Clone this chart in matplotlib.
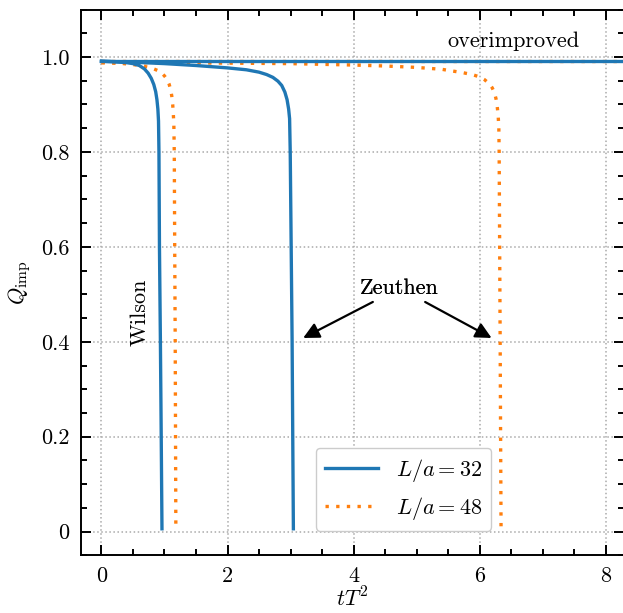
import numpy as np
import matplotlib
matplotlib.use("Agg")
import matplotlib.pyplot as plt
from matplotlib.ticker import MultipleLocator, FuncFormatter

plt.rcParams["font.family"] = "serif"
plt.rcParams["font.serif"] = ["cmr10", "DejaVu Serif"]
plt.rcParams["mathtext.fontset"] = "cm"
plt.rcParams["axes.formatter.use_mathtext"] = True
plt.rcParams["font.size"] = 16

# flow time tT^2 and Q_imp
wilson32_t = [0, 0.2, 0.4, 0.5, 0.6, 0.68, 0.74, 0.79, 0.83, 0.86, 0.88, 0.895, 0.905, 0.912, 0.92, 0.935, 0.948, 0.96]
wilson32_q = [0.991, 0.990, 0.988, 0.986, 0.982, 0.975, 0.966, 0.955, 0.942, 0.927, 0.910, 0.89, 0.865, 0.80, 0.60, 0.40, 0.20, 0.006]

zeuthen32_t = [0, 0.5, 1.0, 1.5, 2.0, 2.3, 2.5, 2.62, 2.72, 2.8, 2.86, 2.91, 2.945, 2.97, 2.985, 2.995, 3.01, 3.025, 3.035, 3.045]
zeuthen32_q = [0.991, 0.989, 0.986, 0.982, 0.977, 0.973, 0.968, 0.963, 0.957, 0.949, 0.940, 0.926, 0.91, 0.89, 0.87, 0.80, 0.60, 0.40, 0.20, 0.006]

wilson48_t = [0, 0.2, 0.35, 0.5, 0.66, 0.81, 0.9, 0.95, 1.0, 1.04, 1.07, 1.095, 1.115, 1.13, 1.14, 1.148, 1.155, 1.162, 1.17, 1.175, 1.18]
wilson48_q = [0.988, 0.987, 0.986, 0.984, 0.981, 0.976, 0.971, 0.967, 0.960, 0.953, 0.944, 0.933, 0.918, 0.90, 0.88, 0.86, 0.80, 0.60, 0.40, 0.20, 0.01]

zeuthen48_t = [0, 1.0, 2.0, 3.0, 4.0, 4.5, 5.0, 5.4, 5.73, 5.88, 6.0, 6.08, 6.15, 6.2, 6.235, 6.26, 6.28, 6.295, 6.305, 6.31, 6.318, 6.326, 6.333, 6.34]
zeuthen48_q = [0.988, 0.988, 0.987, 0.986, 0.983, 0.981, 0.978, 0.974, 0.967, 0.963, 0.958, 0.952, 0.944, 0.935, 0.925, 0.912, 0.895, 0.875, 0.85, 0.80, 0.60, 0.40, 0.20, 0.01]

over_t = [0, 8.5]
over32_q = [0.991, 0.991]
over48_q = [0.991, 0.991]

blue = "#1f77b4"
orange = "#ff7f0e"
dots = (0, (1, 2.2))

fig = plt.figure(figsize=(6.23, 6.13), dpi=100)
ax = fig.add_axes([0.1295, 0.094, 0.872, 0.8905])

ax.plot(over_t, over48_q, color=orange, lw=2.4, ls=dots, zorder=2)
ax.plot(wilson48_t, wilson48_q, color=orange, lw=2.4, ls=dots, zorder=2)
l48, = ax.plot(zeuthen48_t, zeuthen48_q, color=orange, lw=2.4, ls=dots, zorder=2, label=r"$L/a=48$")
ax.plot(over_t, over32_q, color=blue, lw=2.4, zorder=3)
ax.plot(wilson32_t, wilson32_q, color=blue, lw=2.4, zorder=3)
l32, = ax.plot(zeuthen32_t, zeuthen32_q, color=blue, lw=2.4, zorder=3, label=r"$L/a=32$")

ax.set_xlim(-0.33, 8.29)
ax.set_ylim(-0.05, 1.1)
ax.xaxis.set_major_locator(MultipleLocator(2))
ax.xaxis.set_minor_locator(MultipleLocator(0.5))
ax.yaxis.set_major_locator(MultipleLocator(0.2))
ax.yaxis.set_minor_locator(MultipleLocator(0.05))
ax.xaxis.set_major_formatter(FuncFormatter(lambda v, p: "%g" % round(v, 3)))
ax.yaxis.set_major_formatter(FuncFormatter(lambda v, p: "0" if abs(v) < 1e-9 else "%.1f" % v))

ax.tick_params(which="both", direction="in", top=True, right=True, width=1.4)
ax.tick_params(which="major", length=7, pad=8)
ax.tick_params(which="minor", length=4)
for s in ax.spines.values():
    s.set_linewidth(1.4)
ax.grid(which="major", ls=":", color="#aaaaaa", lw=1.1)

ax.set_xlabel(r"$tT^2$", labelpad=0)
ax.set_ylabel(r"$Q_{\rm imp}$", labelpad=6)

ax.text(6.53, 1.033, "overimproved", ha="center", va="center")
ax.text(0.61, 0.463, "Wilson", rotation=90, ha="center", va="center")
for tip in [(3.2, 0.408), (6.19, 0.408)]:
    ax.annotate("Zeuthen", xy=tip, xytext=(4.73, 0.513), ha="center", va="center",
                arrowprops=dict(arrowstyle="-|>", color="black", lw=1.6, mutation_scale=24,
                                shrinkA=2, shrinkB=0))

ax.legend(handles=[l32, l48], loc="lower left", bbox_to_anchor=(0.433, 0.045),
          borderaxespad=0, handlelength=2.4, framealpha=1, edgecolor="#cccccc", fancybox=True)

fig.savefig("out.png", dpi=100)
